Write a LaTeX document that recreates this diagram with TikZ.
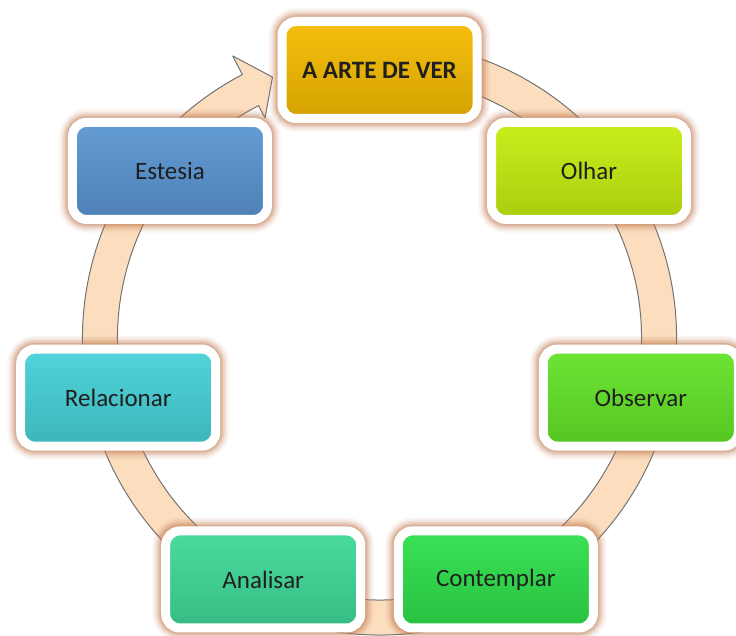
\documentclass[tikz,border=0pt]{standalone}
\usepackage{fontspec}
\setmainfont{Carlito}
\usepackage{xcolor}
\usepackage{tikz}
\usetikzlibrary{calc}

\definecolor{anelcor}{HTML}{FCDEBF}
\definecolor{brilho}{HTML}{C07A50}
\definecolor{corarte}{HTML}{F6BC00}
\definecolor{corolhar}{HTML}{C6EE0F}
\definecolor{corobservar}{HTML}{64E428}
\definecolor{corcontemplar}{HTML}{2EE04B}
\definecolor{coranalisar}{HTML}{3FDA98}
\definecolor{correlacionar}{HTML}{46D2D8}
\definecolor{corestesia}{HTML}{5A96D2}

\tikzstyle{anel} = [fill=anelcor, draw=black!55, line width=1pt, line join=round]
\tikzset{etapa/.style={rounded corners=14pt, draw=white, line width=9pt,
    top color=#1!94!white, middle color=#1, bottom color=#1!86!black,
    minimum width=195pt, minimum height=97pt, inner sep=0pt,
    text=black!88, font=\fontsize{25}{30}\selectfont,
    preaction={draw=brilho, line width=27pt, opacity=0.05},
    preaction={draw=brilho, line width=24pt, opacity=0.07},
    preaction={draw=brilho, line width=21pt, opacity=0.1},
    preaction={draw=brilho, line width=18pt, opacity=0.14},
    preaction={draw=brilho, line width=15pt, opacity=0.2},
    preaction={draw=brilho, line width=12pt, opacity=0.25}}}

\begin{document}
\begin{tikzpicture}[x=1pt,y=1pt]
	\useasboundingbox (0,0) rectangle (736,636);
	\coordinate (c) at (379.5,298);
	
	% Anel:
	% Uma seta larga em volta do centro, no sentido dos ponteiros do relogio
	\draw [anel] ($(c)+(80:297)$) arc [start angle=80, end angle=-242.5, radius=297]
		-- ($(c)+(117.5:318)$) -- ($(c)+(112.3:282)$) -- ($(c)+(117.5:248)$)
		-- ($(c)+(117.5:262)$) arc [start angle=-242.5, end angle=80, radius=262] -- cycle;
	
	% Etapas:
	% Sete caixas em volta do anel, a primeira no topo
	\foreach \nome/\texto/\cor [count=\i from 0] in
		{arte/{\bfseries A ARTE DE VER}/corarte,
		 olhar/Olhar/corolhar,
		 observar/Observar/corobservar,
		 contemplar/Contemplar/corcontemplar,
		 analisar/Analisar/coranalisar,
		 relacionar/Relacionar/correlacionar,
		 estesia/Estesia/corestesia}
	{
		\node [etapa=\cor] (\nome) at ($(c)+({90-\i*360/7}:268)$) {\texto};
	}
	
\end{tikzpicture}
\end{document}
